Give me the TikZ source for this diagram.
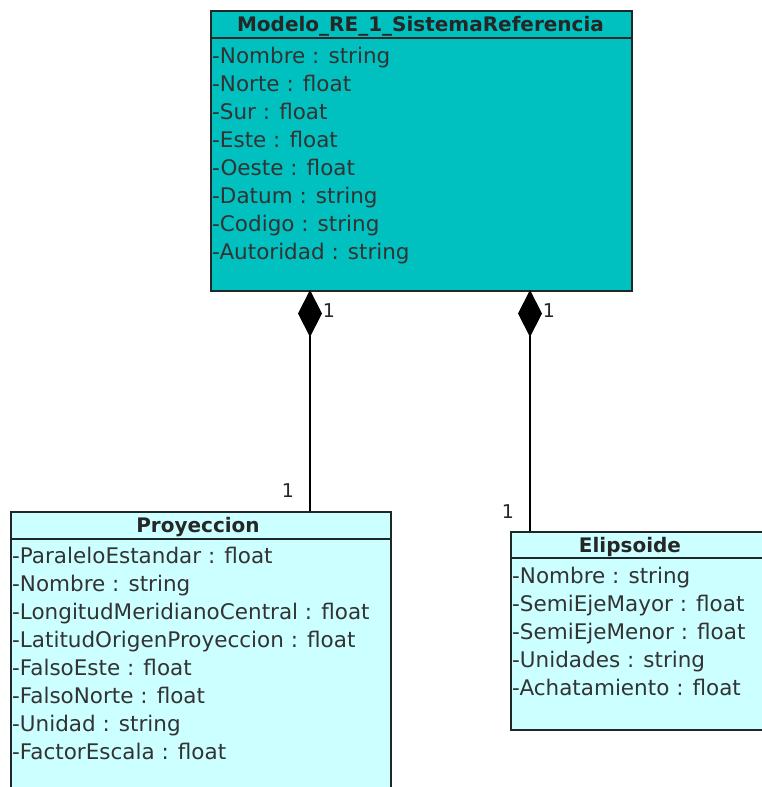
\documentclass[tikz,border=0pt]{standalone}
\usepackage{fontspec}
\setmainfont{DejaVu Sans}
\usetikzlibrary{arrows.meta,positioning}
\definecolor{teal}{RGB}{0,192,192}
\definecolor{lightcyan}{RGB}{204,255,255}
\definecolor{edge}{RGB}{30,40,40}
\tikzset{
  classbox/.style={draw=edge, line width=1.8pt, anchor=north west, inner sep=0pt},
  title/.style={font=\bfseries\fontsize{20}{20}\selectfont, text=black!85, anchor=base, inner sep=0pt},
  attr/.style={font=\fontsize{21.5}{21.5}\selectfont, text=black!80, anchor=base west, inner sep=0pt},
  mult/.style={font=\fontsize{19}{19}\selectfont, text=black!85, anchor=base, inner sep=0pt},
  compo/.style={line width=1.5pt, draw=black, {Diamond[length=47pt,width=24pt]}-},
}
\begin{document}
\begin{tikzpicture}[x=1pt,y=-1pt]
\useasboundingbox (0,0) rectangle (761,787);
\fill[white] (0,0) rectangle (761,787);

% Modelo_RE_1_SistemaReferencia
\node[classbox, fill=teal, minimum width=421pt, minimum height=280pt] (sr) at (210,10) {};
\draw[edge, line width=1.8pt] (210,38) -- (631,38);
\node[title] (srt) at (420.5,31) {Modelo\_RE\_1\_SistemaReferencia};
\foreach \t [count=\i] in {-Nombre : string,-Norte : float,-Sur : float,-Este : float,-Oeste : float,-Datum : string,-Codigo : string,-Autoridad : string}
  \node[attr] (sra\i) at (212,{35+28*\i}) {\t};

% Proyeccion
\node[classbox, fill=lightcyan, minimum width=380pt, minimum height=300pt] (pr) at (10,511) {};
\draw[edge, line width=1.8pt] (10,539) -- (390,539);
\node[title] (prt) at (198,532) {Proyeccion};
\foreach \t [count=\i] in {-ParaleloEstandar : float,-Nombre : string,-LongitudMeridianoCentral : float,-LatitudOrigenProyeccion : float,-FalsoEste : float,-FalsoNorte : float,-Unidad : string,-FactorEscala : float}
  \node[attr] (pra\i) at (12,{535+28*\i}) {\t};

% Elipsoide
\node[classbox, fill=lightcyan, minimum width=255pt, minimum height=198pt] (el) at (510,531) {};
\draw[edge, line width=1.8pt] (510,558) -- (765,558);
\node[title] (elt) at (630,552) {Elipsoide};
\foreach \t [count=\i] in {-Nombre : string,-SemiEjeMayor : float,-SemiEjeMenor : float,-Unidades : string,-Achatamiento : float}
  \node[attr] (ela\i) at (512,{555+28*\i}) {\t};

% composition connectors
\coordinate (c1a) at (310,290);
\coordinate (c1b) at (310,511);
\coordinate (c2a) at (530,290);
\coordinate (c2b) at (530,531);
\draw[compo] (c1a) -- (c1b);
\draw[compo] (c2a) -- (c2b);

% multiplicities
\node[mult] (m1) at (329,317) {1};
\node[mult] (m2) at (549,317) {1};
\node[mult] (m3) at (288,497) {1};
\node[mult] (m4) at (508,518) {1};
\end{tikzpicture}
\end{document}
